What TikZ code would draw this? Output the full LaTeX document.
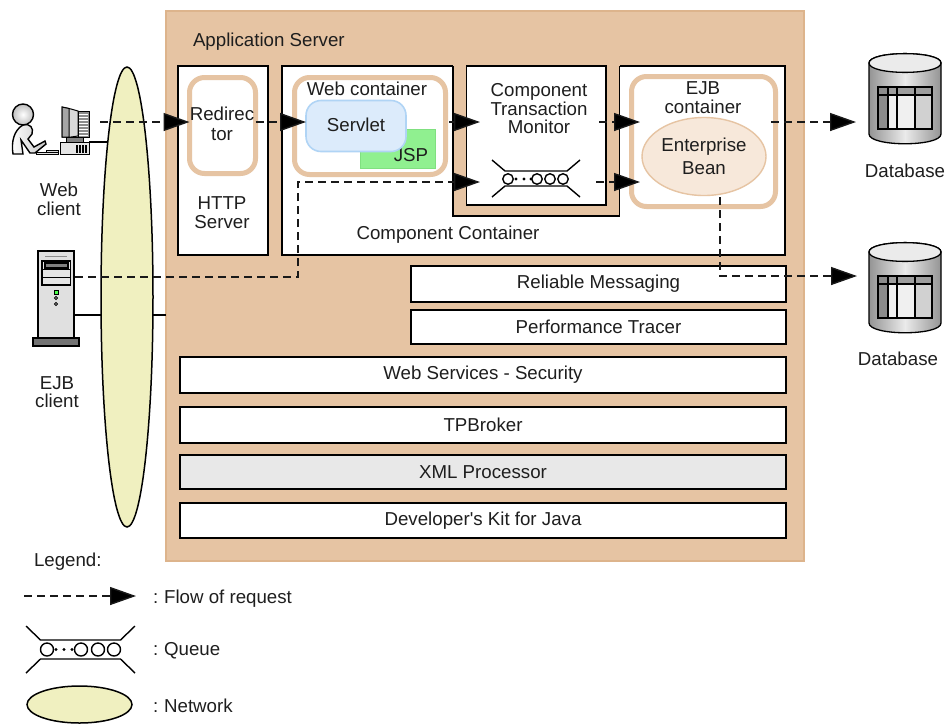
\documentclass[tikz,border=0pt]{standalone}
\usepackage{fontspec}
\setmainfont{Liberation Sans}
\newfontfamily\plainf{Liberation Sans}
\usetikzlibrary{arrows.meta,shapes.geometric,calc}
\definecolor{tan}{HTML}{E6C4A3}
\definecolor{tanedge}{HTML}{DDB48C}
\definecolor{netfill}{HTML}{F0F0C0}
\definecolor{txt}{HTML}{1E1E1E}
\definecolor{jspfill}{HTML}{90F090}
\definecolor{jspedge}{HTML}{80E080}
\definecolor{svfill}{HTML}{DCEBFB}
\definecolor{svedge}{HTML}{B0D4F5}
\definecolor{beanfill}{HTML}{F7E8DA}
\newcommand{\bxat}[6][]{%
  \pgfmathsetmacro{\bw}{#5-#3}\pgfmathsetmacro{\bh}{#6-#4}
  \pgfmathsetmacro{\bcx}{(#5+#3)/2}\pgfmathsetmacro{\bcy}{(#6+#4)/2}
  \node[#1,minimum width=\bw pt,minimum height=\bh pt] (#2) at (\bcx,\bcy)}
\tikzset{
  base/.style={inner sep=0pt,outer sep=0pt,text=txt,font=\fontsize{18.7}{18.7}\selectfont,align=center},
  label/.style={base},
  whitebox/.style={base,draw=black,line width=1.4pt,fill=white,rectangle},
  greybox/.style={whitebox,fill=black!9},
  tanring/.style={base,draw=tan,line width=5pt,fill=white,rectangle,rounded corners=15pt},
  flow/.style={line width=1.4pt,draw=black!90,dash pattern=on 8pt off 5pt,-{Triangle[length=26pt,width=18pt,fill=black]}},
  wire/.style={line width=1.4pt,draw=black},
  netshape/.style={ellipse,draw=black,line width=1.5pt,fill=netfill,inner sep=0pt,outer sep=0pt},
  qline/.style={line width=1.4pt,draw=black},
  qcirc/.style={circle,draw=black,line width=1.4pt,fill=white,inner sep=0pt,outer sep=0pt},
  qdot/.style={circle,fill=black,inner sep=0pt,minimum size=3.4pt},
  pc/.style={line width=1pt,draw=black},
  pic grey/.style={left color=black!42,right color=black!42,middle color=black!8},
}
\tikzset{
  database/.pic={
    \path[pic grey,draw=black,line width=1.3pt] (-36,-40) -- (-36,31) .. controls (-36,44) and (36,44) .. (36,31) -- (36,-40) .. controls (36,-52.5) and (-36,-52.5) .. (-36,-40) -- cycle;
    \path[draw=black,line width=1.3pt,fill=black!8] (-36,-40) .. controls (-36,-27.5) and (36,-27.5) .. (36,-40) .. controls (36,-52.5) and (-36,-52.5) .. (-36,-40) -- cycle;
    \fill[black!6] (-27,-16) rectangle (27,26);
    \fill[black!38] (-27,-16) rectangle (27,-8);
    \fill[black!45] (-27,-16) rectangle (-17,26);
    \fill[black!18] (10,-8) rectangle (27,26);
    \draw[line width=1.1pt] (-27,-16) rectangle (27,26);
    \draw[line width=1.1pt] (-27,-8) -- (27,-8);
    \draw[line width=1.1pt] (-17,-16) -- (-17,26) (-8,-16) -- (-8,26) (10,-16) -- (10,26);
  },
  queue/.pic={
    \draw[qline] (-54.5,-23.5) -- (-40,-9.5) -- (40,-9.5) -- (54.5,-23.5);
    \draw[qline] (-54.5,23.5) -- (-40,9.5) -- (40,9.5) -- (54.5,23.5);
    \node[qcirc,minimum size=13pt] at (-33.5,0) {};
    \node[qcirc,minimum size=13pt] at (0.5,0) {};
    \node[qcirc,minimum size=13pt] at (17.5,0) {};
    \node[qcirc,minimum size=13pt] at (33.5,0) {};
    \node[qdot] at (-24.5,0) {};
    \node[qdot] at (-16.5,0) {};
    \node[qdot] at (-8.5,0) {};
  },
  smallqueue/.pic={
    \draw[qline] (-44,-19) -- (-31,-8) -- (31,-8) -- (44,-19);
    \draw[qline] (-44,18) -- (-31,7) -- (31,7) -- (44,18);
    \node[qcirc,minimum size=10.5pt] at (-28,0) {};
    \node[qcirc,minimum size=10.5pt] at (1,0) {};
    \node[qcirc,minimum size=10.5pt] at (14,0) {};
    \node[qcirc,minimum size=10.5pt] at (27,0) {};
    \node[qdot] at (-20,0) {};
    \node[qdot] at (-12,0) {};
    \node[qdot] at (-5,0) {};
  },
}
\begin{document}
\begin{tikzpicture}[x=1pt,y=-1pt]
\useasboundingbox (0,0) rectangle (947,724);
% application server
\bxat[base,draw=tanedge,line width=1.5pt,fill=tan,rectangle]{appserver}{166}{11}{804}{561} {};
\node[label,anchor=base west] (applabel) at (193,46) {Application Server};
% network
\node[netshape,minimum width=52pt,minimum height=460pt] (network) at (127,297) {};
% containers
\bxat[whitebox]{http}{178}{66}{268}{255} {};
\node[label] (httplabel) at (222,212.5) {HTTP\\[0.5pt]Server};
\bxat[tanring]{redir}{189.5}{77.5}{255.5}{173.5} {};
\node[label] (redirlabel) at (222,123.5) {Redirec\\[1pt]tor};
\bxat[whitebox]{compcont}{282}{66}{785}{255} {};
\node[label] (complabel) at (448,235) {Component Container};
\bxat[base,fill=tan,rectangle]{ctmback}{453}{63}{619.5}{216} {};
\draw[wire] (453,66) -- (453,216) -- (619.5,216) -- (619.5,66);
\bxat[whitebox]{ctm}{466.5}{66}{606}{205} {};
\node[label,anchor=north] (ctmlabel) at (539,83.5) {Component\\[0pt]Transaction\\[0pt]Monitor};
\pic (ctmq) at (536,179) {smallqueue};
\bxat[tanring]{webcont}{294.5}{77.5}{445.5}{174.5} {};
\node[label] (weblabel) at (367,89) {Web container};
\bxat[base,draw=jspedge,line width=1.4pt,fill=jspfill,rectangle]{jsp}{360.5}{129.5}{435.5}{168.5} {};
\node[label] (jsplabel) at (411,155) {JSP};
\bxat[base,draw=svedge,line width=1.6pt,fill=svfill,rectangle,rounded corners=15pt]{servlet}{306}{100.5}{406}{151.5} {};
\node[label] (servletlabel) at (356,125) {Servlet};
\bxat[tanring]{ejb}{631.5}{76.5}{775.5}{206.5} {};
\node[label,anchor=north] (ejblabel) at (703,82) {EJB\\[0pt]container};
\node[base,ellipse,draw=tan,line width=1.4pt,fill=beanfill,minimum width=124pt,minimum height=78pt] (bean) at (704,156.5) {Enterprise\\[4pt]Bean};
% bars
\bxat[whitebox]{reliable}{411}{266}{786}{302} {Reliable Messaging};
\bxat[whitebox]{perf}{411}{310}{786}{344} {Performance Tracer};
\bxat[whitebox]{wss}{180}{357}{786}{393} {Web Services - Security};
\bxat[whitebox]{tpb}{180}{407}{786}{443} {TPBroker};
\bxat[greybox]{xml}{180}{455}{786}{489} {XML Processor};
\bxat[whitebox]{jdk}{180}{503}{786}{538} {{\plainf Developer's Kit for Java}};
% web client icon
\draw[line width=1.4pt,draw=black,left color=white,right color=black!22] (13,154) .. controls (11,142) and (14,130) .. (23,125) .. controls (30,123) and (34,128) .. (32,134) -- (28,139) -- (34,147) -- (45,141) -- (46,144) -- (35,153) -- (30,153) -- (21,140) -- (23,154) -- cycle;
\node[circle,draw=black,line width=1.4pt,inner color=white,outer color=black!25,minimum size=21pt,inner sep=0pt] (head) at (23,114.5) {};
\draw[pc,fill=black!12] (36,152.5) rectangle (58,154.5);
\draw[pc,fill=black!15] (46,150) rectangle (58,152.5);
\draw[pc,fill=black!15] (62,107) -- (71,109) -- (78,111) -- (78,136) -- (71,137) -- (62,137) -- cycle;
\draw[pc,fill=black!35] (62,107) -- (69,108.5) -- (69,137) -- (62,137) -- cycle;
\draw[pc,fill=black!45] (78,111) rectangle (89,137);
\foreach \yy in {114,117,120,123,126,129,132,135} \draw[white,line width=1pt] (79,\yy) -- (88,\yy);
\draw[pc,fill=black!50] (66,137) rectangle (83,142);
\draw[pc,fill=black!10] (60,142) rectangle (89,154);
\foreach \xx in {77,80,83,86} \draw[line width=1.1pt] (\xx,145) -- (\xx,153);
\coordinate (webpc) at (89,142);
% EJB client icon
\bxat[base,draw=black,line width=1.3pt,fill=black!12,rectangle]{tower}{38}{251}{74}{338} {};
\draw[line width=1.3pt,draw=black,fill=black!55] (33,338) rectangle (79,346);
\draw[line width=1pt,draw=black!45] (45,256) -- (67,256);
\draw[line width=1.2pt,draw=black,fill=black!10] (42,261) rectangle (70.5,285);
\draw[line width=1.2pt,draw=black,fill=black!50] (45,263) rectangle (68,268);
\draw[line width=1pt,draw=black] (42,269.5) -- (70.5,269.5) (42,277) -- (70.5,277);
\draw[line width=.8pt,draw=black,fill=green!70!white] (54,290) rectangle (58,294);
\draw[line width=.8pt,draw=black,fill=black!40] (56,298) circle (1.6);
\draw[line width=.8pt,draw=black,fill=black!40] (56,304) circle (1.6);
% databases
\pic (db1) at (905,103) {database};
\pic (db2) at (905,292) {database};
\coordinate (db1in) at (856,122);
\coordinate (db2in) at (857,276);
\node[label] (db1label) at (905,171) {Database};
\node[label] (db2label) at (898,359) {Database};
\node[label] (weblab) at (59,199) {Web\\[0pt]client};
\node[label] (ejblab) at (57,392) {EJB\\[0pt]client};
% solid links
\draw[wire] (webpc) -- ($(webpc)+(17.5,0)$);
\draw[wire] (tower.east |- 0,315) -- (102,315);
\draw[wire] (152.5,315) -- (appserver.west |- 0,315);
% flows
\coordinate (f1) at (100,122);
\draw[flow] (f1) -- (redir.west |- f1);
\draw[flow] (redir.east |- f1) -- (servlet.west |- f1);
\coordinate (f2a) at (449,122);
\coordinate (f2b) at (480,122);
\draw[flow] (f2a) -- (f2b);
\coordinate (f3a) at (599,122);
\coordinate (f3b) at (640,122);
\draw[flow] (f3a) -- (f3b);
\coordinate (f4a) at (771,122);
\draw[flow] (f4a) -- (db1in);
\coordinate (g1) at (75,277);
\coordinate (g2) at (298,277);
\coordinate (g3) at (298,182);
\coordinate (g4) at (480,182);
\draw[flow] (g1) -- (g2) -- (g3) -- (g4);
\coordinate (g5) at (596,182);
\coordinate (g6) at (640,182);
\draw[flow] (g5) -- (g6);
\coordinate (h1) at (720,197);
\coordinate (h2) at (720,276);
\draw[flow] (h1) -- (h2) -- (db2in);
% legend
\node[label,anchor=base west] (legend) at (34,566) {Legend:};
\coordinate (l1) at (24,596);
\coordinate (l2) at (136,596);
\draw[flow] (l1) -- (l2);
\node[label,anchor=base west] (lflow) at (153,603) {:\hspace{-1pt} Flow of request};
\pic (lq) at (80.5,649.5) {queue};
\node[label,anchor=base west] (lqueue) at (153,655) {:\hspace{-1pt} Queue};
\node[netshape,minimum width=105pt,minimum height=37pt] (lnet) at (79.5,704.5) {};
\node[label,anchor=base west] (lnetlabel) at (153,712) {:\hspace{-1pt} Network};
\end{tikzpicture}
\end{document}
